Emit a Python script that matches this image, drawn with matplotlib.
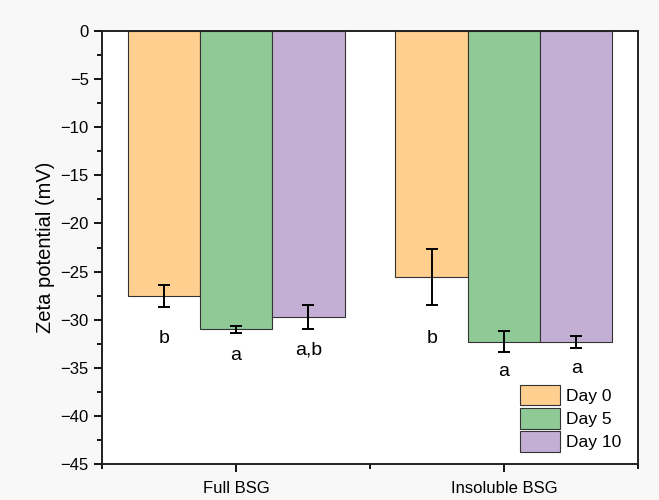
import matplotlib.pyplot as plt
import numpy as np
from matplotlib.ticker import MultipleLocator, FixedLocator

plt.rcParams['font.family'] = ['Liberation Sans', 'DejaVu Sans']

# Dados.
groups = ['Full BSG', 'Insoluble BSG']
days = ['Day 0', 'Day 5', 'Day 10']
values = [[-27.5, -31.0, -29.7],
          [-25.6, -32.3, -32.3]]
errors = [[1.15, 0.35, 1.25],
          [2.9, 1.1, 0.65]]
letters = [['b', 'a', 'a,b'],
           ['b', 'a', 'a']]
letter_y = [[-32.0, -33.7, -33.2],
            [-32.0, -35.4, -35.1]]
colors = ['#FFCF8F', '#8FCA96', '#C4AFD4']

fig = plt.figure(figsize=(6.59, 5.0), dpi=100, facecolor='#f8f8f8')
ax = fig.add_axes([0.155, 0.072, 0.813, 0.866])
ax.set_facecolor('white')

x = np.arange(1, len(groups) + 1)
width = 0.27
for j, (day, color) in enumerate(zip(days, colors)):
    pos = x + (j - 1) * width
    vals = [v[j] for v in values]
    errs = [e[j] for e in errors]
    ax.bar(pos, vals, width, color=color, edgecolor='#333333', linewidth=0.8, label=day)
    ax.errorbar(pos, vals, yerr=errs, fmt='none', ecolor='black', elinewidth=1.4,
                capsize=4, capthick=1.4)
    for p, ly, lab in zip(pos, [l[j] for l in letter_y], [l[j] for l in letters]):
        ax.text(p, ly, lab, ha='center', va='center', fontsize=14)

ax.set_xlim(0.5, 2.5)
ax.set_ylim(-45, 0)
ax.set_xticks(x)
ax.set_xticklabels(groups, fontsize=12)
ax.xaxis.set_minor_locator(FixedLocator([0.5, 1.5, 2.5]))
ax.yaxis.set_major_locator(MultipleLocator(5))
ax.yaxis.set_minor_locator(MultipleLocator(2.5))
ax.tick_params(axis='both', which='major', direction='out', length=6, width=1.3, labelsize=12)
ax.tick_params(axis='both', which='minor', direction='out', length=3.5, width=1.3)
ax.tick_params(axis='x', pad=6)
ax.set_ylabel('Zeta potential (mV)', fontsize=14.5, labelpad=4)

for side in ['left', 'bottom', 'top', 'right']:
    ax.spines[side].set_linewidth(1.4)
    ax.spines[side].set_color('#222222')

leg = ax.legend(loc='lower right', bbox_to_anchor=(0.988, 0.004), frameon=False,
                fontsize=12.5, handlelength=2.3, handleheight=1.45, labelspacing=0.15,
                handletextpad=0.35, borderaxespad=0.2)

fig.savefig('out.png', dpi=100, facecolor=fig.get_facecolor())
